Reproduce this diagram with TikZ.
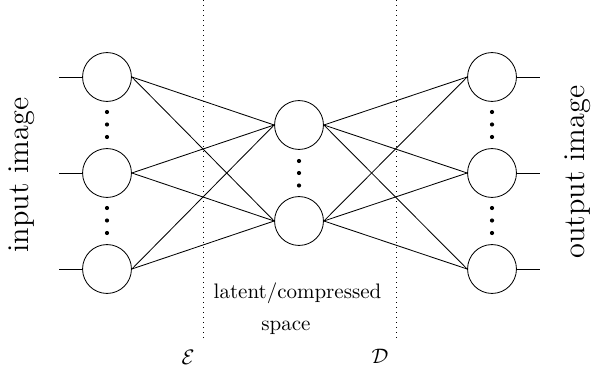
\documentclass[tikz,border=0pt]{standalone}
\begin{document}
\begin{tikzpicture}[x=0.4765pt,y=-0.4765pt,
  neuron/.style={draw,circle,minimum size=23.3pt,inner sep=0pt},
  dotmark/.style={fill=black},
  sep/.style={dotted},
  lbl/.style={inner sep=0pt,font=\normalsize},
  sidelbl/.style={inner sep=0pt,font=\Large,rotate=90}]
\useasboundingbox (0,0) rectangle (596,371);
% nodes
\node[neuron] (l1) at (107,77) {};
\node[neuron] (l2) at (107,173) {};
\node[neuron] (l3) at (107,269) {};
\node[neuron] (m1) at (299,125) {};
\node[neuron] (m2) at (299,221) {};
\node[neuron] (r1) at (492,77) {};
\node[neuron] (r2) at (492,173) {};
\node[neuron] (r3) at (492,269) {};
% input/output stubs
\foreach \n/\y in {1/77,2/173,3/269}{
  \coordinate (in\n) at (59,\y);
  \coordinate (out\n) at (540,\y);
  \draw (in\n) -- (l\n.west);
  \draw (r\n.east) -- (out\n);
}
% connections
\foreach \i in {1,2,3}{
  \foreach \j in {1,2}{
    \draw (l\i.east) -- (m\j.west);
    \draw (m\j.east) -- (r\i.west);
  }
}
% dots
\foreach \x/\y in {107/112,107/124.5,107/137,107/208,107/220.5,107/233,
                   299/161,299/173,299/185.5,
                   492/112,492/124.5,492/137,492/208,492/220.5,492/233}{
  \fill[dotmark] (\x,\y) circle[radius=1pt];
}
% separators
\coordinate (e0) at (203,0); \coordinate (e1) at (203,338);
\coordinate (d0) at (396,0); \coordinate (d1) at (396,338);
\draw[sep] (e0) -- (e1);
\draw[sep] (d0) -- (d1);
% labels
\node[sidelbl] (inlab) at (22,175) {input image};
\node[sidelbl] (outlab) at (578,172) {output image};
\node[lbl,anchor=base] (lat1) at (297.5,298) {latent/compressed};
\node[lbl,anchor=base] (lat2) at (286,330) {space};
\node[lbl] (enc) at (188,357) {$\mathcal{E}$};
\node[lbl] (dec) at (380,356) {$\mathcal{D}$};
\end{tikzpicture}
\end{document}
